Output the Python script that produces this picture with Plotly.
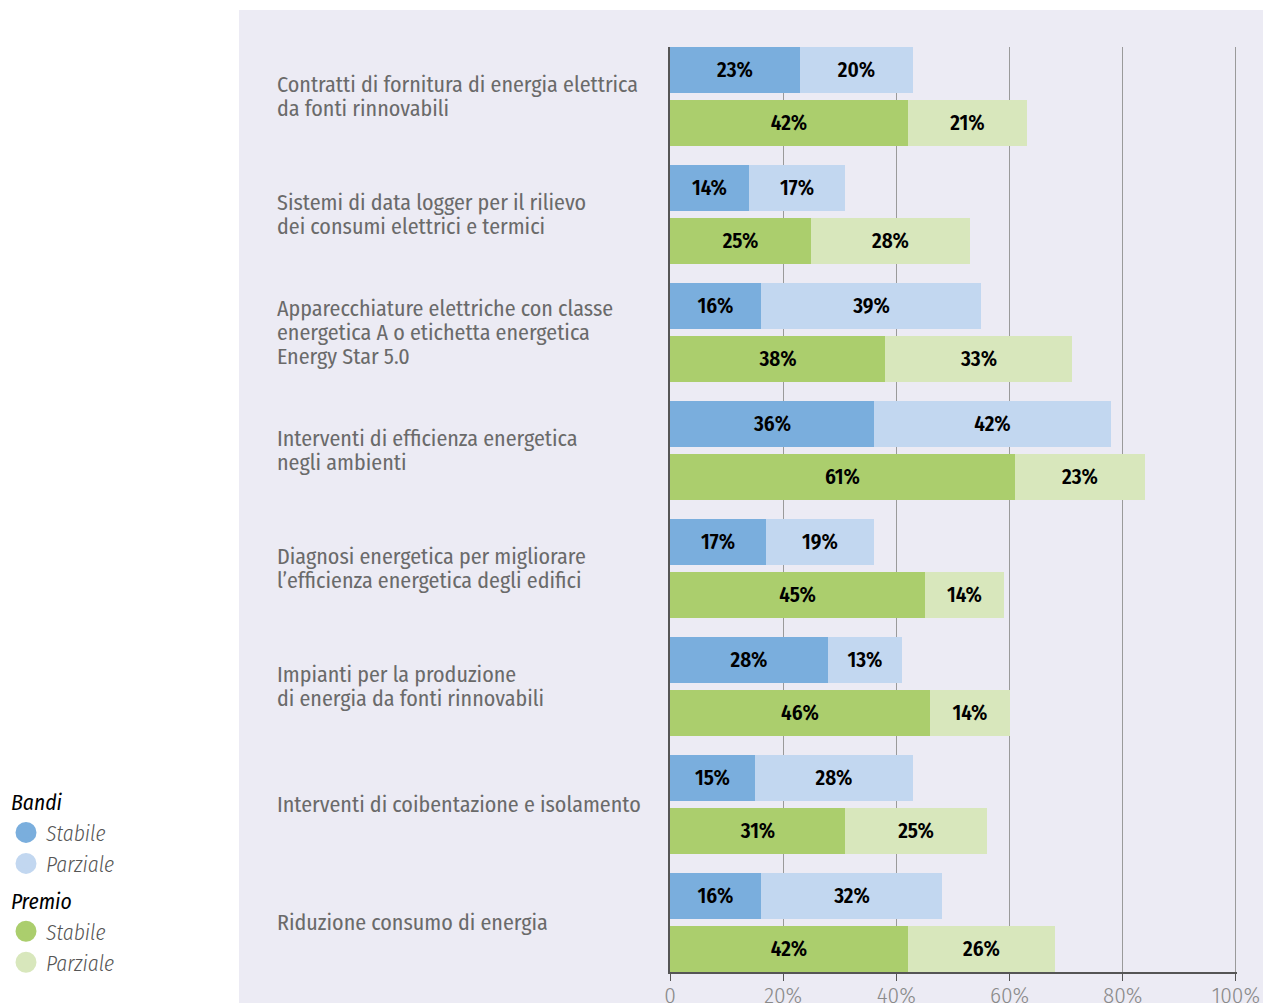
import plotly.graph_objects as go

categories = [
    ["Contratti di fornitura di energia elettrica", "da fonti rinnovabili"],
    ["Sistemi di data logger per il rilievo", "dei consumi elettrici e termici"],
    ["Apparecchiature elettriche con classe", "energetica A o etichetta energetica", "Energy Star 5.0"],
    ["Interventi di efficienza energetica", "negli ambienti"],
    ["Diagnosi energetica per migliorare", "l’efficienza energetica degli edifici"],
    ["Impianti per la produzione", "di energia da fonti rinnovabili"],
    ["Interventi di coibentazione e isolamento"],
    ["Riduzione consumo di energia"],
]
bandi_stabile = [23, 14, 16, 36, 17, 28, 15, 16]
bandi_parziale = [20, 17, 39, 42, 19, 13, 28, 32]
premio_stabile = [42, 25, 38, 61, 45, 46, 31, 42]
premio_parziale = [21, 28, 33, 23, 14, 14, 25, 26]
tick_vals = [0, 20, 40, 60, 80, 100]
tick_text = ["0", "20%", "40%", "60%", "80%", "100%"]

C_BS, C_BP = "#7aaedd", "#c2d7f0"
C_PS, C_PP = "#abce6d", "#d8e7bc"
BG = "#ecebf4"
FONT = "Fira Sans Condensed, Roboto Condensed, sans-serif"

W, H = 1263, 1003
ML, MR, MT, MB = 670, 26, 47, 31
pw, ph = W - ML - MR, H - MT - MB
unit_px = 118.0
off = 26.5 / unit_px
bw = 46 / unit_px

n = len(categories)
idx = list(range(n))
yb = [i - off for i in idx]
yg = [i + off for i in idx]


def pct(v):
    return [f"{x}%" for x in v]


fig = go.Figure()
tf = dict(family=FONT, size=21, color="black", weight=600)
for vals, ypos, col in [(bandi_stabile, yb, C_BS), (bandi_parziale, yb, C_BP),
                        (premio_stabile, yg, C_PS), (premio_parziale, yg, C_PP)]:
    fig.add_trace(go.Bar(
        x=vals, y=ypos, orientation="h", width=bw, marker=dict(color=col, line=dict(width=0)),
        text=pct(vals), textposition="inside", insidetextanchor="middle",
        textangle=0, textfont=tf, constraintext="none", showlegend=False, hoverinfo="skip",
    ))

# legend entries
for grp, title, items in [("bandi", "Bandi", [("Stabile", C_BS), ("Parziale", C_BP)]),
                          ("premio", "Premio", [("Stabile", C_PS), ("Parziale", C_PP)])]:
    for j, (name, col) in enumerate(items):
        fig.add_trace(go.Scatter(
            x=[None], y=[None], mode="markers", name=name,
            marker=dict(symbol="circle", size=16, color=col, line=dict(color=col, width=5)),
            legendgroup=grp,
            legendgrouptitle=dict(text=title, font=dict(family=FONT, size=21.5, color="black",
                                                        style="italic", weight=400)) if j == 0 else None,
        ))

# background panel
fig.add_shape(type="rect", xref="paper", yref="paper",
              x0=(239 - ML) / pw, x1=(W - ML) / pw + 0.01,
              y0=-(MB + 5) / ph, y1=1 + (MT - 10) / ph,
              fillcolor=BG, line=dict(width=0), layer="below")

# category labels
line_step = 24 / unit_px
for i, lines in enumerate(categories):
    k = len(lines)
    for j, t in enumerate(lines):
        fig.add_annotation(x=(275 - ML) / pw, xref="paper", y=i + (j - (k - 1) / 2) * line_step, yref="y",
                           text=t, showarrow=False, xanchor="left", yanchor="middle",
                           font=dict(family=FONT, size=22, color="#6a6a6a", weight=400))

fig.update_layout(
    width=W, height=H, autosize=False, margin=dict(l=ML, r=MR, t=MT, b=MB, pad=0, autoexpand=False),
    paper_bgcolor="white", plot_bgcolor=BG, barmode="stack", bargap=0,
    font=dict(family=FONT),
    legend=dict(x=(6 - ML) / pw, xanchor="left", y=-11 / ph, yanchor="bottom", traceorder="grouped",
                font=dict(family=FONT, size=21.5, color="#555555", style="italic", weight=300),
                bgcolor="rgba(0,0,0,0)", tracegroupgap=6, itemsizing="trace",
                itemwidth=30, groupclick="toggleitem"),
    xaxis=dict(range=[0, 100.2], tickvals=tick_vals, ticktext=tick_text, showgrid=True, automargin=False,
               gridcolor="#9a9a9a", gridwidth=1, zeroline=False, showline=True,
               linecolor="#555555", linewidth=2, ticks="outside", ticklen=7, tickcolor="#555555",
               ticklabelstandoff=-6,
               tickfont=dict(family=FONT, size=23, color="#8a8a8a", weight=300), fixedrange=True),
    yaxis=dict(range=[n - 1 + 49.5 / unit_px, -49.5 / unit_px], showticklabels=False, showgrid=False,
               automargin=False, zeroline=False, showline=True, linecolor="#555555", linewidth=2,
               ticks="", fixedrange=True),
)

fig.write_html("out.html", config={"responsive": False, "displayModeBar": False},
               post_script="document.body.style.margin='0';document.body.style.padding='0';"
                           "document.body.style.overflow='hidden';")
